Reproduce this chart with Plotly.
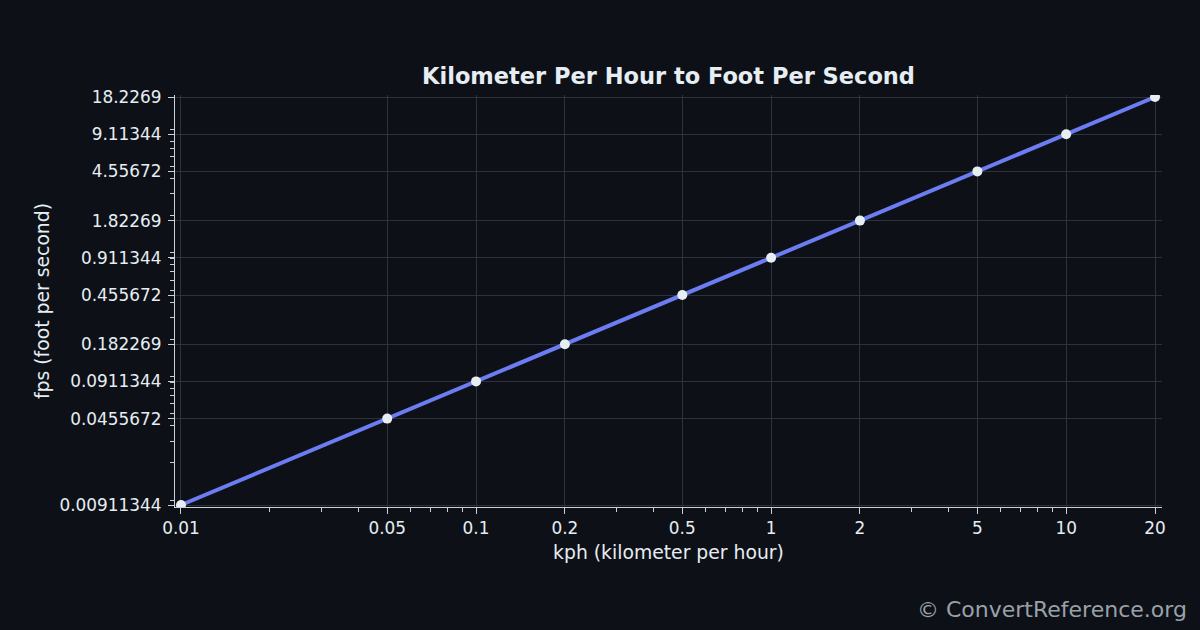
import math
import plotly.graph_objects as go

kph = [0.01, 0.05, 0.1, 0.2, 0.5, 1, 2, 5, 10, 20]
fps = [0.00911344, 0.0455672, 0.0911344, 0.182269, 0.455672, 0.911344, 1.82269, 4.55672, 9.11344, 18.2269]
x_ticks = kph
x_tick_text = ["0.01", "0.05", "0.1", "0.2", "0.5", "1", "2", "5", "10", "20"]
y_ticks = fps
y_tick_text = ["0.00911344", "0.0455672", "0.0911344", "0.182269", "0.455672", "0.911344",
               "1.82269", "4.55672", "9.11344", "18.2269"]

def log_minor(lo_exp, hi_exp, majors):
    vals = []
    for e in range(lo_exp, hi_exp + 1):
        for k in range(1, 10):
            v = k * 10 ** e
            if all(abs(v - m) / m > 1e-6 for m in majors):
                vals.append(v)
    return vals

BG = "#0d1117"
TXT = "#e6edf3"
AX = "#c9d1d9"
GRID = "#2b323c"
FONT = "DejaVu Sans"

fig = go.Figure()
fig.add_trace(go.Scatter(
    x=kph, y=fps, mode="lines+markers",
    line=dict(color="#6c7cf2", width=4),
    marker=dict(color="#e6edf3", size=10, line=dict(width=0)),
    hoverinfo="x+y", showlegend=False,
))

axis_common = dict(
    type="log", showline=True, linecolor=AX, linewidth=1.2,
    ticks="outside", ticklen=6, tickwidth=1.2, tickcolor=AX,
    showgrid=True, gridcolor=GRID, gridwidth=1, zeroline=False,
    tickfont=dict(family=FONT, size=16.9, color=TXT),
)

fig.update_xaxes(
    **axis_common,
    range=[math.log10(0.01) - 0.0203, math.log10(20) + 0.0237],
    tickmode="array", tickvals=x_ticks, ticktext=x_tick_text,
    minor=dict(tickmode="array", tickvals=log_minor(-2, 1, x_ticks), ticks="outside",
               ticklen=3.5, tickwidth=1, tickcolor=AX, showgrid=False),
    title=dict(text="kph (kilometer per hour)", font=dict(family=FONT, size=18.8, color=TXT), standoff=8),
)
fig.update_yaxes(
    **axis_common,
    range=[math.log10(0.00911344) - 0.0162, math.log10(18.2269) + 0.0162],
    tickmode="array", tickvals=y_ticks, ticktext=y_tick_text,
    ticklabelstandoff=3,
    minor=dict(tickmode="array", tickvals=log_minor(-3, 1, y_ticks), ticks="outside",
               ticklen=3.5, tickwidth=1, tickcolor=AX, showgrid=False),
    title=dict(text="fps (foot per second)", font=dict(family=FONT, size=18.8, color=TXT), standoff=4),
)

fig.update_layout(
    width=1200, height=630,
    paper_bgcolor=BG, plot_bgcolor=BG,
    margin=dict(l=175, r=38, t=95, b=123),
    title=dict(text="<b>Kilometer Per Hour to Foot Per Second</b>",
               font=dict(family=FONT, size=22.5, color=TXT),
               x=0.5, xref="paper", xanchor="center", y=1 - 76 / 630, yanchor="middle"),
    annotations=[dict(text="© ConvertReference.org", xref="paper", yref="paper",
                      x=1 + 27 / 987, y=-(609 - 507) / 412, xanchor="right", yanchor="middle",
                      showarrow=False, font=dict(family=FONT, size=22, color="#9aa1a9"))],
)

fig.write_html("out.html")
